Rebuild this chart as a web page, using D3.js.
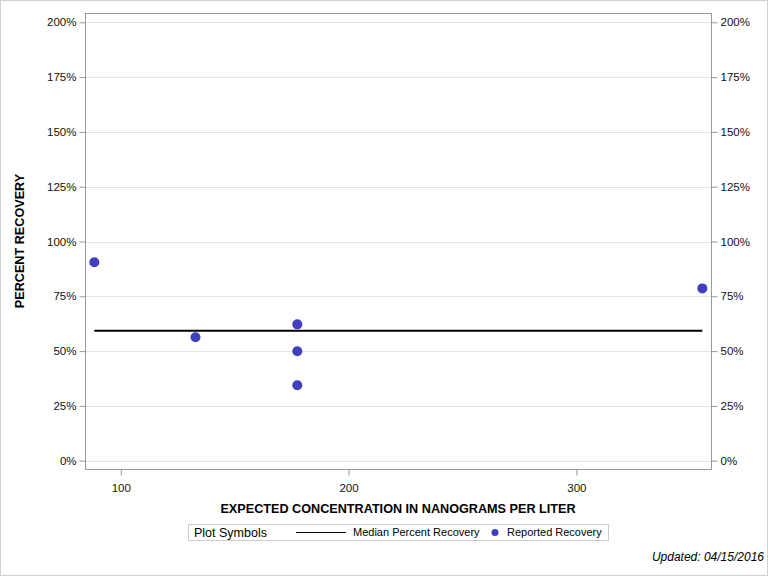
<!DOCTYPE html>
<html><head><meta charset="utf-8">
<script src="https://cdn.jsdelivr.net/npm/d3@7"></script>
<style>body{margin:0;background:#fff}svg{display:block;font-family:"Liberation Sans",Arial,sans-serif}</style>
</head><body><svg id="c" width="768" height="576"></svg>
<script>
const concentration = [88.4, 132.8, 177.5, 177.5, 177.5, 355.3];
const recovery = [90.5, 56.3, 62.2, 49.9, 34.4, 78.6];
const medianRecovery = 59.3;
const medianRange = [88.4, 355.3];
const yTicks = [0, 25, 50, 75, 100, 125, 150, 175, 200];
const xTicks = [100, 200, 300];

const svg = d3.select("#c");
const L = 85, R = 711, T = 13, B = 469;
const x = d3.scaleLinear().domain([84.3, 359.1]).range([L, R]);
const y = d3.scaleLinear().domain([0, 200]).range([460.7, 22.3]);

svg.append("rect").attr("x",0.5).attr("y",0.5).attr("width",767).attr("height",575)
  .attr("fill","none").attr("stroke","#d0d0d0");

// grid
svg.append("g").selectAll("line").data(yTicks).join("line")
  .attr("x1",L).attr("x2",R).attr("y1",d=>Math.round(y(d))+0.5).attr("y2",d=>Math.round(y(d))+0.5)
  .attr("stroke","#e3e3e3");

const fmt = d => d + "%";
const axL = svg.append("g").attr("transform",`translate(${L+0.5},0)`)
  .call(d3.axisLeft(y).tickValues(yTicks).tickFormat(fmt).tickSize(6).tickPadding(3));
const axR = svg.append("g").attr("transform",`translate(${R+0.5},0)`)
  .call(d3.axisRight(y).tickValues(yTicks).tickFormat(fmt).tickSize(6).tickPadding(3));
const axB = svg.append("g").attr("transform",`translate(0,${B+0.5})`)
  .call(d3.axisBottom(x).tickValues(xTicks).tickFormat(d3.format("d")).tickSize(6).tickPadding(8));
[axL,axR,axB].forEach(a=>{
  a.select(".domain").remove();
  a.selectAll(".tick line").attr("stroke","#999");
  a.selectAll(".tick text").attr("fill","#111").style("font-size","11.5px").style("font-family","'Liberation Sans',Arial,sans-serif");
});

// frame
svg.append("rect").attr("x",L+0.5).attr("y",T+0.5).attr("width",R-L).attr("height",B-T)
  .attr("fill","none").attr("stroke","#999");

// median line
svg.append("line").attr("x1",x(medianRange[0])).attr("x2",x(medianRange[1]))
  .attr("y1",y(medianRecovery)).attr("y2",y(medianRecovery))
  .attr("stroke","#000").attr("stroke-width",2);

// points
svg.append("g").selectAll("circle").data(concentration).join("circle")
  .attr("cx",d=>x(d)).attr("cy",(d,i)=>y(recovery[i])).attr("r",5)
  .attr("fill","#3f3fbf");

// axis titles
svg.append("text").attr("x",398).attr("y",513).attr("text-anchor","middle")
  .style("font-weight","bold").style("font-size","12.65px").attr("fill","#000")
  .text("EXPECTED CONCENTRATION IN NANOGRAMS PER LITER");
svg.append("text").attr("transform","translate(24,241) rotate(-90)").attr("text-anchor","middle")
  .style("font-weight","bold").style("font-size","12.65px").attr("fill","#000")
  .text("PERCENT RECOVERY");

// legend
const lg = svg.append("g");
lg.append("rect").attr("x",188.5).attr("y",524.5).attr("width",420).attr("height",16)
  .attr("fill","none").attr("stroke","#ccc");
lg.append("text").attr("x",194).attr("y",537).style("font-size","12.5px").attr("fill","#000").text("Plot Symbols");
lg.append("line").attr("x1",296).attr("x2",346).attr("y1",532.5).attr("y2",532.5).attr("stroke","#000").attr("stroke-width",1);
lg.append("text").attr("x",353).attr("y",536).style("font-size","11px").attr("fill","#000").text("Median Percent Recovery");
lg.append("circle").attr("cx",495).attr("cy",532.5).attr("r",3.5).attr("fill","#3f3fbf");
lg.append("text").attr("x",507).attr("y",536).style("font-size","11px").attr("fill","#000").text("Reported Recovery");

svg.append("text").attr("x",764).attr("y",561).attr("text-anchor","end")
  .style("font-style","italic").style("font-size","12px").attr("fill","#000").text("Updated: 04/15/2016");
</script></body></html>
